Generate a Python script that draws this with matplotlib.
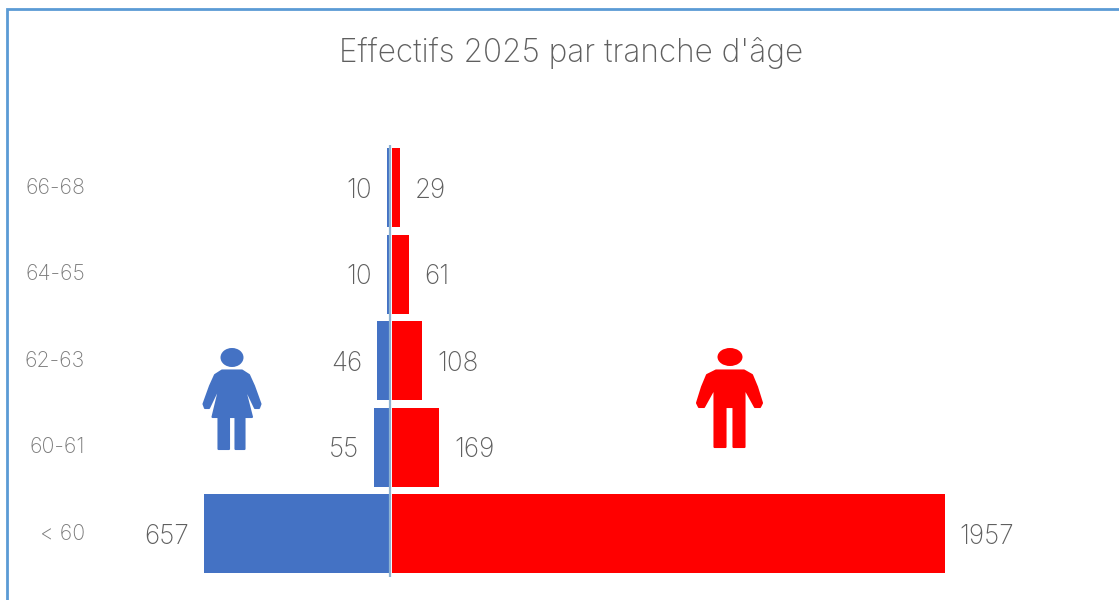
import matplotlib
matplotlib.use("Agg")
import matplotlib.pyplot as plt
from matplotlib.patches import Ellipse, Polygon

# Data, bottom to top
age_labels = ["< 60", "60-61", "62-63", "64-65", "66-68"]
femmes = [657, 55, 46, 10, 10]
hommes = [1957, 169, 108, 61, 29]

blue = "#4472C4"
red = "#FF0000"
grey = "#5F5F5F"

plt.rcParams["font.family"] = ["Inter", "DejaVu Sans"]
plt.rcParams["font.weight"] = "light"

W, H = 1119, 600
fig = plt.figure(figsize=(W / 100, H / 100), dpi=100)

# overlay in pixels for the frame and the two icons
bg = fig.add_axes([0, 0, 1, 1])
bg.set_xlim(0, W)
bg.set_ylim(H, 0)
bg.axis("off")
bg.plot([7, 7, W], [H, 9, 9], color="#5B9BD5", lw=2.0, solid_joinstyle="miter")


def femme_icon(ax, color):
    ax.add_patch(Ellipse((232, 357.5), 23, 19, color=color, lw=0))
    body = [(222, 370.5), (242, 370.5), (249, 375), (254, 386), (260.5, 404), (259, 408), (255, 408),
            (243.5, 384), (252, 417), (244.5, 417), (244.5, 449), (235.5, 449), (235.5, 417),
            (229, 417), (229, 449), (218.5, 449), (218.5, 417), (212.5, 417), (220.5, 384),
            (209, 408), (205, 408), (203.5, 404), (210, 386), (215, 375)]
    ax.add_patch(Polygon(body, closed=True, facecolor=color, edgecolor=color, lw=1.5,
                         joinstyle="round"))


def homme_icon(ax, color):
    ax.add_patch(Ellipse((730, 357), 25, 18, color=color, lw=0))
    body = [(716, 370.5), (744, 370.5), (752, 375), (757, 387), (762, 403), (760, 407), (755, 407),
            (744.5, 388), (744.5, 447), (733.5, 447), (733.5, 407), (725.5, 407), (725.5, 447), (714.5, 447),
            (714.5, 388), (704, 407), (699, 407), (697, 403), (702, 387), (707, 375)]
    ax.add_patch(Polygon(body, closed=True, facecolor=color, edgecolor=color, lw=1.5,
                         joinstyle="round"))


femme_icon(bg, blue)
homme_icon(bg, red)

# pyramid axes: 0.2825 px per person, zero at x=390, one row = 86.5 px
scale = 0.2825
left_px, right_px = 100, 1040
top_px, bottom_px = 144.5, 577
ax = fig.add_axes([left_px / W, 1 - bottom_px / H, (right_px - left_px) / W, (bottom_px - top_px) / H])
ax.patch.set_alpha(0)
ax.set_xlim((left_px - 390) / scale, (right_px - 390) / scale)
ax.set_ylim(-0.5, 4.5)

y = range(len(age_labels))
ax.barh(y, [-v for v in femmes], height=0.91, left=0, color=blue)
ax.barh(y, hommes, height=0.91, left=6, color=red)
ax.axvline(0, color="#8DB3D2", lw=1.6)

for i in y:
    ax.annotate(str(femmes[i]), (-femmes[i], i), xytext=(-15, -3), textcoords="offset pixels",
                ha="right", va="center", fontsize=18.8, color=grey)
    ax.annotate(str(hommes[i]), (hommes[i] + 6, i), xytext=(15, -3), textcoords="offset pixels",
                ha="left", va="center", fontsize=18.8, color=grey)
    # tick labels sit far left of the axes
    ax.annotate(age_labels[i], (0, i), xycoords=("figure pixels", "data"), xytext=(85, 0),
                textcoords="offset pixels", ha="right", va="center", fontsize=15.3, color="#7A7A7A")

for s in ax.spines.values():
    s.set_visible(False)
ax.set_xticks([])
ax.set_yticks([])

fig.text(571.5 / W, 1 - 53 / H, "Effectifs 2025 par tranche d'âge", ha="center", va="center",
         fontsize=22.7, color=grey)

fig.savefig("out.png", dpi=100)
